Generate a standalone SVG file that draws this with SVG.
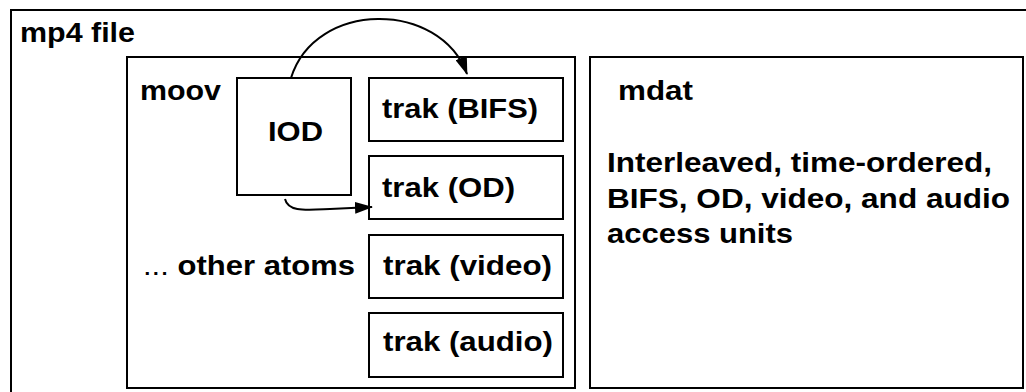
<svg xmlns="http://www.w3.org/2000/svg" width="1026" height="392" viewBox="0 0 1026 392">
<style>
.box{fill:#fff;stroke:#000;stroke-width:2}
.t{font-family:"Liberation Sans",Arial,sans-serif;font-weight:bold;font-size:28px;fill:#000}
.c{fill:none;stroke:#000;stroke-width:2}
</style>
<defs>
<marker id="ah" markerUnits="userSpaceOnUse" markerWidth="18" markerHeight="12" refX="17" refY="6" orient="auto">
<path d="M0,0 L18,6 L0,12 Z" fill="#000"/>
</marker>
</defs>
<rect width="1026" height="392" fill="#fff"/>
<g id="mp4file">
<rect class="box" x="11" y="10" width="1030" height="395"/>
<text class="t" x="20" y="42" textLength="115" lengthAdjust="spacingAndGlyphs">mp4 file</text>
</g>
<g id="moov">
<rect class="box" x="127" y="57" width="448" height="331"/>
<text class="t" x="140" y="100" textLength="81" lengthAdjust="spacingAndGlyphs">moov</text>
<text class="t" x="143" y="275" textLength="212" lengthAdjust="spacingAndGlyphs"><tspan font-weight="normal">...</tspan> other atoms</text>
</g>
<g id="mdat">
<rect class="box" x="590" y="57" width="433" height="331"/>
<text class="t" x="618" y="100" textLength="75" lengthAdjust="spacingAndGlyphs">mdat</text>
<text class="t" x="607" y="172" textLength="385" lengthAdjust="spacingAndGlyphs">Interleaved, time-ordered,</text>
<text class="t" x="607" y="208" textLength="403" lengthAdjust="spacingAndGlyphs">BIFS, OD, video, and audio</text>
<text class="t" x="607" y="243" textLength="186" lengthAdjust="spacingAndGlyphs">access units</text>
</g>
<g id="iod">
<rect class="box" x="237" y="78" width="114" height="117"/>
<text class="t" x="268" y="141" textLength="55" lengthAdjust="spacingAndGlyphs">IOD</text>
</g>
<g id="trak-bifs">
<rect class="box" x="369" y="78" width="194" height="63"/>
<text class="t" x="382" y="118" textLength="156" lengthAdjust="spacingAndGlyphs">trak (BIFS)</text>
</g>
<g id="trak-od">
<rect class="box" x="369" y="156" width="194" height="63"/>
<text class="t" x="382" y="197" textLength="133" lengthAdjust="spacingAndGlyphs">trak (OD)</text>
</g>
<g id="trak-video">
<rect class="box" x="369" y="235" width="194" height="63"/>
<text class="t" x="383" y="275" textLength="169" lengthAdjust="spacingAndGlyphs">trak (video)</text>
</g>
<g id="trak-audio">
<rect class="box" x="369" y="313" width="194" height="64"/>
<text class="t" x="383" y="351" textLength="170" lengthAdjust="spacingAndGlyphs">trak (audio)</text>
</g>
<g id="connectors">
<path class="c" d="M291,78 C315,0 440,0 467,74" marker-end="url(#ah)"/>
<path class="c" d="M285,199 C288,212 305,210 330,209 L372,207" marker-end="url(#ah)"/>
</g>
</svg>
